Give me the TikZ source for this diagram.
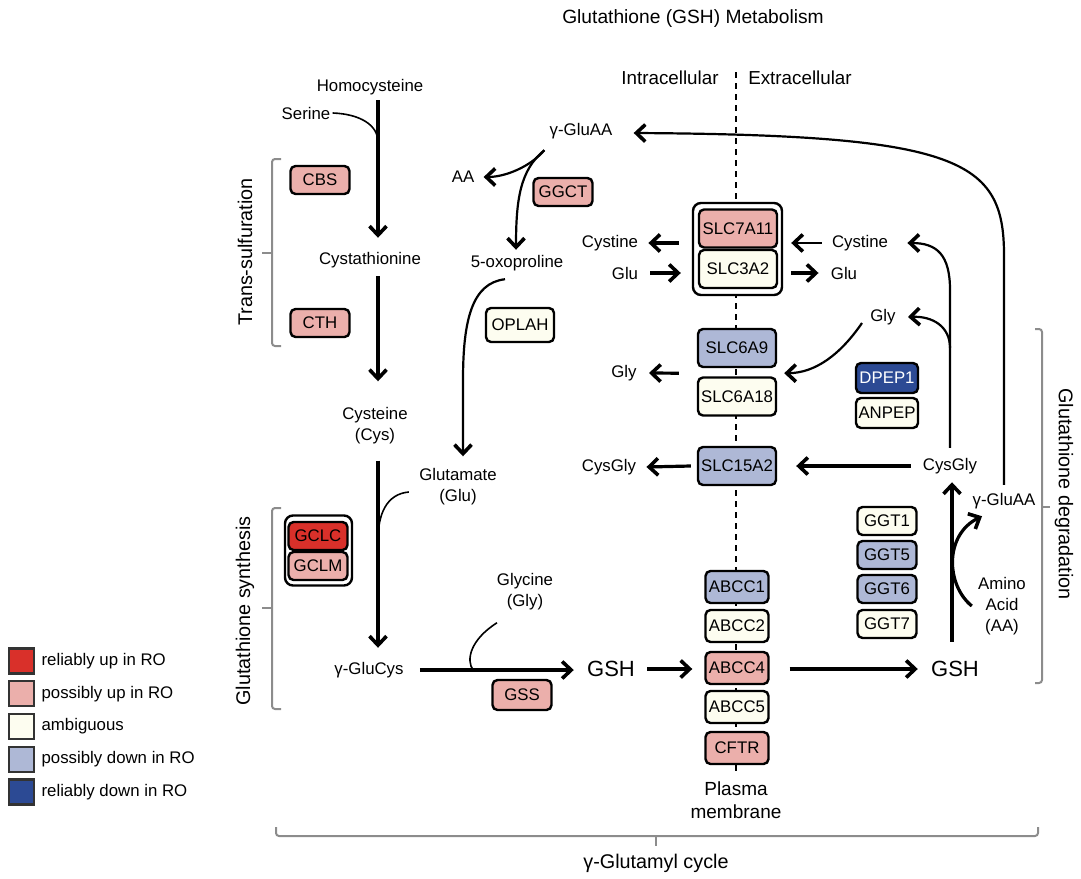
\documentclass[tikz,border=0pt]{standalone}
\usepackage{fontspec}
\setmainfont{Liberation Sans}
\usetikzlibrary{arrows.meta,positioning}

\definecolor{upstrong}{RGB}{217,48,42}
\definecolor{upweak}{RGB}{235,175,171}
\definecolor{ambig}{RGB}{253,253,240}
\definecolor{downweak}{RGB}{174,184,214}
\definecolor{downstrong}{RGB}{44,74,148}
\definecolor{brackgray}{RGB}{140,140,140}

\tikzset{
  gene/.style={draw, line width=1.2pt, rounded corners=2.5pt, minimum width=29.5pt,
    minimum height=14pt, inner sep=1pt, font=\fontsize{8.4}{10}\selectfont},
  upr/.style={gene, fill=upstrong},
  upp/.style={gene, fill=upweak},
  ambi/.style={gene, fill=ambig},
  dnp/.style={gene, fill=downweak},
  dnr/.style={gene, fill=downstrong, text=white},
  slc/.style={minimum width=39pt, minimum height=19pt},
  abc/.style={minimum width=31.5pt, minimum height=16pt},
  grp/.style={draw, fill=white, line width=1.2pt, rounded corners=4pt},
  lbl/.style={inner sep=1pt, align=center, font=\fontsize{8.4}{10.5}\selectfont},
  big/.style={inner sep=1pt, font=\fontsize{11}{13}\selectfont},
  side/.style={inner sep=1pt, font=\fontsize{9.9}{12}\selectfont},
  thk/.style={line width=1.6pt},
  mid/.style={line width=1.1pt},
  thn/.style={line width=0.8pt},
  brk/.style={draw=brackgray, line width=1pt, rounded corners=1.5pt},
  membr/.style={line width=1.4pt, dash pattern=on 3pt off 2.5pt},
  legsq/.style={draw=black!80, line width=1.2pt, minimum size=12.5pt, inner sep=0pt}
}

\begin{document}
\begin{tikzpicture}[x=0.5pt, y=-0.5pt,
    >={Straight Barb[length=4.5pt,width=8.5pt,line width=1.8pt]}]
  \useasboundingbox (0,0) rectangle (1081,878);

  % plasma membrane
  \draw[membr] (736,72) -- (736,772);

  % headings
  \node[inner sep=1pt, font=\fontsize{9.6}{11}\selectfont] (title) at (693,19) {Glutathione (GSH) Metabolism};
  \node[side, font=\fontsize{9.4}{11}\selectfont] (intra) at (670,78) {Intracellular};
  \node[side, font=\fontsize{9.4}{11}\selectfont] (extra) at (800,78) {Extracellular};

  % trans-sulfuration and synthesis
  \node[lbl] (homocys) at (370,87) {Homocysteine};
  \node[lbl] (serine) at (306,113) {Serine};
  \node[lbl] (cystath) at (370,260) {Cystathionine};
  \node[lbl] (cys) at (375,426) {Cysteine\\(Cys)};
  \node[lbl] (glu) at (458,487) {Glutamate\\(Glu)};
  \node[lbl] (glucys) at (369,670) {γ-GluCys};
  \node[lbl] (gly) at (525,592) {Glycine\\(Gly)};
  \node[big] (gshin) at (611,669) {GSH};

  \node[upp] (cbs) at (320,180) {CBS};
  \node[upp] (cth) at (320,323) {CTH};
  \node[grp, minimum width=33.5pt, minimum height=35pt] (gclgrp) at (318.5,550.5) {};
  \node[upr] (gclc) at (318,536) {GCLC};
  \node[upp] (gclm) at (318,566) {GCLM};
  \node[upp, minimum height=15pt] (gss) at (522,695) {GSS};

  % gamma-glutamyl recycling
  \node[lbl] (gluaain) at (581,131) {γ-GluAA};
  \node[lbl] (aa) at (463,177) {AA};
  \node[lbl] (oxopro) at (517,263) {5-oxoproline};
  \node[upp] (ggct) at (563,192) {GGCT};
  \node[ambi, minimum width=34pt, minimum height=17pt] (oplah) at (520,325) {OPLAH};

  % transporters
  \node[grp, minimum width=44.5pt, minimum height=46pt] (slcgrp) at (737.5,249) {};
  \node[upp, slc] (slc7a11) at (738,228.5) {SLC7A11};
  \node[ambi, slc] (slc3a2) at (738,269) {SLC3A2};
  \node[dnp, slc] (slc6a9) at (737,348) {SLC6A9};
  \node[ambi, slc] (slc6a18) at (737,396.5) {SLC6A18};
  \node[dnp, slc] (slc15a2) at (737,466) {SLC15A2};
  \node[dnp, abc] (abcc1) at (737,587) {ABCC1};
  \node[ambi, abc] (abcc2) at (737,626) {ABCC2};
  \node[upp, abc] (abcc4) at (737,668) {ABCC4};
  \node[ambi, abc] (abcc5) at (737,707) {ABCC5};
  \node[upp, abc] (cftr) at (737,748) {CFTR};
  \node[lbl, font=\fontsize{9.5}{11.5}\selectfont] (plasma) at (736,800) {Plasma\\membrane};

  \node[lbl] (cystinein) at (610,243) {Cystine};
  \node[lbl] (gluin) at (625,273) {Glu};
  \node[lbl] (glyin) at (624,373) {Gly};
  \node[lbl] (cysglyin) at (609,467) {CysGly};

  % degradation
  \node[lbl] (cystineout) at (860,243) {Cystine};
  \node[lbl] (gluout) at (844,273) {Glu};
  \node[lbl] (glyout) at (883,317) {Gly};
  \node[dnr, minimum width=31pt, minimum height=15pt] (dpep1) at (887,378) {DPEP1};
  \node[ambi, minimum width=31pt, minimum height=15pt] (anpep) at (887,413) {ANPEP};
  \node[lbl] (cysglyout) at (950,466) {CysGly};
  \node[lbl] (gluaaout) at (1004,501) {γ-GluAA};
  \node[lbl] (aminoacid) at (1002,606) {Amino\\Acid\\(AA)};
  \node[big] (gshout) at (955,669) {GSH};
  \node[ambi] (ggt1) at (887,521) {GGT1};
  \node[dnp] (ggt5) at (887,555) {GGT5};
  \node[dnp] (ggt6) at (887,589) {GGT6};
  \node[ambi] (ggt7) at (887,624) {GGT7};

  \coordinate (serj) at (378,142);
  \coordinate (gluj) at (378,540);
  \coordinate (glyj) at (473,670);
  \coordinate (branchj) at (950,348);

  % synthesis arrows
  \draw[thk,->] ([xshift=4pt,yshift=-1.5pt]homocys.south) -- ([xshift=4pt,yshift=6pt]cystath.north);
  \draw[thn] (serine.east) .. controls (360,114) and (378,125) .. (serj);
  \draw[thk,->] ([xshift=4pt,yshift=-3pt]cystath.south) -- ([xshift=1.5pt,yshift=12pt]cys.north);
  \draw[thk,->] ([xshift=1.5pt,yshift=-7pt]cys.south) -- ([xshift=4.5pt,yshift=6pt]glucys.north);
  \draw[thn] ([xshift=-4pt,yshift=-2.5pt]glu.west) .. controls (386,494) and (378,515) .. (gluj);
  \draw[thk,->] ([xshift=7pt]glucys.east) -- ([xshift=-5.5pt]gshin.west |- glucys.east);
  \draw[thn] ([xshift=-14pt,yshift=-5pt]gly.south) .. controls (470,640) and (466,660) .. (glyj);

  % recycling arrows
  \draw[mid,->] ([xshift=-1.5pt,yshift=-4.5pt]gluaain.south west) .. controls (530,167) and (505,177) .. ([xshift=3.5pt]aa.east);
  \draw[mid,->] ([xshift=-1.5pt,yshift=-4.5pt]gluaain.south west) .. controls (520,170) and (516,200) .. ([xshift=-0.5pt,yshift=1.5pt]oxopro.north);
  \draw[mid,->] ([xshift=-6pt,yshift=-3pt]oxopro.south) .. controls (472,283) and (463,320) .. (463,380) -- ([xshift=2.5pt,yshift=5pt]glu.north);
  \draw[mid,->] ([yshift=3pt]gluaaout.north) -- (1004,255) .. controls (1004,160) and (960,135) .. ([xshift=9.5pt,yshift=-1pt]gluaain.east);

  % export and import across the membrane
  \draw[thk,->] ([xshift=5pt]gshin.east) -- ([xshift=-6pt]abcc4.west |- gshin.east);
  \draw[thk,->] ([xshift=10pt]abcc4.east |- gshout.west) -- ([xshift=-5.5pt]gshout.west);
  \draw[thk,->] ([xshift=-6.5pt]slcgrp.west |- cystinein.east) -- ([xshift=4pt]cystinein.east);
  \draw[thk,->] ([xshift=5pt]gluin.east) -- ([xshift=-5.5pt]slcgrp.west |- gluin.east);
  \draw[thn,->] ([xshift=-4pt]cystineout.west) -- ([xshift=4pt]slcgrp.east |- cystineout.west);
  \draw[thk,->] ([xshift=4pt]slcgrp.east |- gluout.west) -- ([xshift=-5pt]gluout.west);
  \draw[mid,->] ([xshift=-3pt,yshift=-3pt]glyout.west) .. controls (840,355) and (815,373) .. ([xshift=3.5pt,yshift=-2.5pt]slc6a9.south east);
  \draw[thk,->] ([xshift=-9pt,yshift=-2.5pt]slc6a9.south west) -- ([xshift=5pt]glyin.east);
  \draw[thk,->] ([xshift=-5pt]cysglyout.west) -- ([xshift=9.5pt]slc15a2.east);
  \draw[thk,->] ([xshift=-3pt]slc15a2.west) -- ([xshift=4pt]cysglyin.east);

  % degradation arrows
  \draw[thk,->] ([xshift=-1.5pt,yshift=8.5pt]gshout.north) -- ([xshift=1pt,yshift=-3pt]cysglyout.south);
  \draw[thk,->] ([xshift=-2pt]aminoacid.west) .. controls (946,585) and (944,535) .. ([xshift=-11pt,yshift=-2.5pt]gluaaout.south);
  \draw[mid,->] ([yshift=4pt]cysglyout.north) -- (950,290) .. controls (950,255) and (937,243) .. ([xshift=8.5pt]cystineout.east);
  \draw[mid,->] (branchj) .. controls (950,326) and (932,316) .. ([xshift=5pt]glyout.east);

  % brackets
  \draw[brk] (281,159) -- (272,159) -- (272,346) -- (281,346);
  \draw[brk] (272,253) -- (262,253);
  \node[side, rotate=90] (transsulf) at (245,252) {Trans-sulfuration};
  \draw[brk] (281,508) -- (272,508) -- (272,709) -- (281,709);
  \draw[brk] (272,608) -- (262,608);
  \node[side, rotate=90] (synth) at (245,611) {Glutathione synthesis};
  \draw[brk] (1035,329) -- (1042,329) -- (1042,683) -- (1035,683);
  \draw[brk] (1042,507) -- (1050,507);
  \node[side, rotate=-90] (degrad) at (1064,494) {Glutathione degradation};
  \draw[brk] (276,827) -- (276,836) -- (1038,836) -- (1038,827);
  \draw[brk] (656,836) -- (656,846);
  \node[side] (cycle) at (656,863) {γ-Glutamyl cycle};

  % legend
  \foreach \col/\txt [count=\i] in {upstrong/reliably up in RO, upweak/possibly up in RO,
      ambig/ambiguous, downweak/possibly down in RO, downstrong/reliably down in RO} {
    \node[legsq, fill=\col] (sq\i) at (21.5,{661+32.75*(\i-1)}) {};
    \node[lbl, anchor=west] (leg\i) at ([xshift=2pt]sq\i.east) {\txt};
  }
\end{tikzpicture}
\end{document}
